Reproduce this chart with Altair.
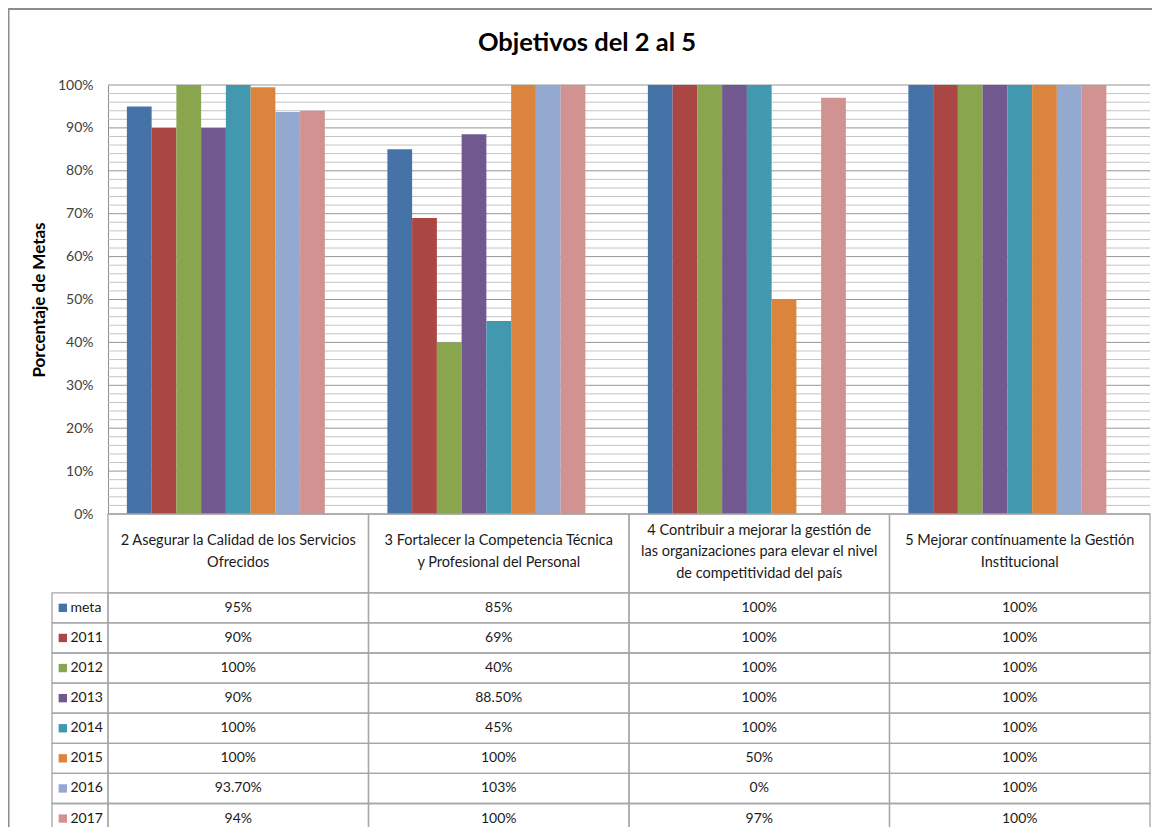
import altair as alt
import pandas as pd

# ---------------- data ----------------
categories = [
    "2 Asegurar la Calidad de los Servicios Ofrecidos",
    "3 Fortalecer la Competencia Técnica y Profesional del Personal",
    "4 Contribuir a mejorar la gestión de las organizaciones para elevar el nivel de competitividad del país",
    "5 Mejorar contínuamente la Gestión Institucional",
]
header_lines = [
    ["2 Asegurar la Calidad de los Servicios", "Ofrecidos"],
    ["3 Fortalecer la Competencia Técnica", "y Profesional del Personal"],
    ["4 Contribuir a mejorar la gestión de", "las organizaciones para elevar el nivel", "de competitividad del país"],
    ["5 Mejorar contínuamente la Gestión", "Institucional"],
]
series = ["meta", "2011", "2012", "2013", "2014", "2015", "2016", "2017"]
colors = ["#4572A7", "#AA4643", "#89A54E", "#71588F", "#4198AF", "#DB843D", "#93A9CF", "#D19392"]
chart_title = "Objetivos del 2 al 5"
y_title = "Porcentaje de Metas"

v_meta = [0.95, 0.85, 1.00, 1.00]
v_2011 = [0.90, 0.69, 1.00, 1.00]
v_2012 = [1.00, 0.40, 1.00, 1.00]
v_2013 = [0.90, 0.885, 1.00, 1.00]
v_2014 = [1.00, 0.45, 1.00, 1.00]
v_2015 = [0.995, 1.00, 0.50, 1.00]
v_2016 = [0.937, 1.03, 0.00, 1.00]
v_2017 = [0.94, 1.00, 0.97, 1.00]

l_meta = ["95%", "85%", "100%", "100%"]
l_2011 = ["90%", "69%", "100%", "100%"]
l_2012 = ["100%", "40%", "100%", "100%"]
l_2013 = ["90%", "88.50%", "100%", "100%"]
l_2014 = ["100%", "45%", "100%", "100%"]
l_2015 = ["100%", "100%", "50%", "100%"]
l_2016 = ["93.70%", "103%", "0%", "100%"]
l_2017 = ["94%", "100%", "97%", "100%"]

values = [v_meta, v_2011, v_2012, v_2013, v_2014, v_2015, v_2016, v_2017]
labels = [l_meta, l_2011, l_2012, l_2013, l_2014, l_2015, l_2016, l_2017]

y_ticks = [i / 10 for i in range(11)]
minor_ticks = [i / 50 for i in range(51) if i % 5 != 0]

rows = []
for s, vals, labs in zip(series, values, labels):
    for c, v, l in zip(categories, vals, labs):
        rows.append({"series": s, "cat": c, "value": v, "label": l})
df = pd.DataFrame(rows)

hrows = []
for c, lines in zip(categories, header_lines):
    for i, t in enumerate(lines):
        hrows.append({"cat": c, "line": t, "slot": 2 * i + (3 - len(lines))})
head_df = pd.DataFrame(hrows)

cat_df = pd.DataFrame({"cat": categories})
ser_df = pd.DataFrame({"series": series})
major_df = pd.DataFrame({"v": y_ticks})
minor_df = pd.DataFrame({"v": minor_ticks})
one_df = pd.DataFrame({"t": [chart_title]})

# ---------------- layout ----------------
W, H = 1042, 429
ROW_TOP = 507.8
ROW_BOTTOM = ROW_TOP + 8 * 30.1
FONT = "Lato"
LINE = "#a6a6a6"

x_enc = alt.X("cat:N", scale=alt.Scale(domain=categories, paddingInner=0, paddingOuter=0), axis=None)
y_scale = alt.Scale(domain=[0, 1], clamp=True, nice=False, zero=True)
y_axis = alt.Axis(
    format="%", values=y_ticks, grid=False, ticks=False, domain=True,
    domainColor="#8c8c8c", domainWidth=1,
    labelFont=FONT, labelFontSize=14, labelColor="#404040", labelPadding=15,
    title=y_title, titleFont=FONT, titleFontSize=17, titleFontWeight="bold",
    titleColor="#000000", titleX=-69, titleY=H / 2, titleBaseline="middle",
)
color_enc = alt.Color("series:N", scale=alt.Scale(domain=series, range=colors), legend=None)

minor = alt.Chart(minor_df).mark_rule(color="#c4c4c4", strokeWidth=1).encode(
    y=alt.Y("v:Q", scale=y_scale, axis=y_axis)
)
major = alt.Chart(major_df).mark_rule(color="#959595", strokeWidth=1).encode(
    y=alt.Y("v:Q", scale=y_scale, axis=y_axis)
)
bars = alt.Chart(df).mark_bar().encode(
    x=x_enc,
    xOffset=alt.XOffset("series:N", scale=alt.Scale(domain=series + [" "], paddingInner=0, paddingOuter=0.763)),
    y=alt.Y("value:Q", scale=y_scale, axis=y_axis),
    color=color_enc,
)
plot_part = alt.layer(minor, major, bars)

row_scale = alt.Scale(domain=series, range=[ROW_TOP, ROW_BOTTOM], paddingInner=0, paddingOuter=0)
row_enc = alt.Y("series:N", scale=row_scale, axis=None)

cells = alt.Chart(df).mark_rect(fill="white", fillOpacity=0, stroke=LINE, strokeWidth=1.3).encode(
    x=x_enc, y=row_enc
)
legend_cells = alt.Chart(ser_df).mark_rect(fill="white", fillOpacity=0, stroke=LINE, strokeWidth=1.3).encode(
    x=alt.value(-56), x2=alt.value(0), y=row_enc
)
header_cells = alt.Chart(cat_df).mark_rect(fill="white", fillOpacity=0, stroke=LINE, strokeWidth=1.3).encode(
    x=x_enc, y=alt.value(H), y2=alt.value(ROW_TOP)
)
cell_text = alt.Chart(df).mark_text(font=FONT, fontSize=14, baseline="middle", color="#1a1a1a").encode(
    x=x_enc, y=row_enc, text="label:N"
)
legend_sq = alt.Chart(ser_df).mark_square(size=70, opacity=1).encode(
    x=alt.value(-45.2), y=row_enc, color=color_enc
)
legend_txt = alt.Chart(ser_df).mark_text(font=FONT, fontSize=14, align="left", baseline="middle", color="#1a1a1a").encode(
    x=alt.value(-37.5), y=row_enc, text="series:N"
)
table_part = alt.layer(cells, legend_cells, header_cells, cell_text, legend_sq, legend_txt)

header_text = alt.Chart(head_df).mark_text(
    font=FONT, fontSize=14.5, baseline="middle", color="#1a1a1a"
).encode(
    x=x_enc,
    y=alt.Y("slot:Q", scale=alt.Scale(domain=[0, 4], range=[445.5, 488.8]), axis=None),
    text="line:N",
)

border = alt.Chart(one_df).mark_rect(fill="white", fillOpacity=0, stroke="#8c8c8c", strokeWidth=2).encode(
    x=alt.value(-99.5), x2=alt.value(W + 200), y=alt.value(-76), y2=alt.value(H + 400)
)
title_mark = alt.Chart(one_df).mark_text(
    font=FONT, fontSize=25.5, fontWeight="bold", baseline="middle", align="center", color="#000000"
).encode(x=alt.value(479), y=alt.value(-42), text="t:N")

chart = (
    alt.layer(plot_part, table_part, header_text, border, title_mark)
    .resolve_scale(y="independent")
    .properties(
        width=W,
        height=H,
        padding={"left": 100, "top": 77, "right": 2, "bottom": 313},
        autosize=alt.AutoSizeParams(type="none"),
    )
    .configure_view(stroke=None)
)

chart.save("out.html", embed_options={"renderer": "svg", "actions": False})
